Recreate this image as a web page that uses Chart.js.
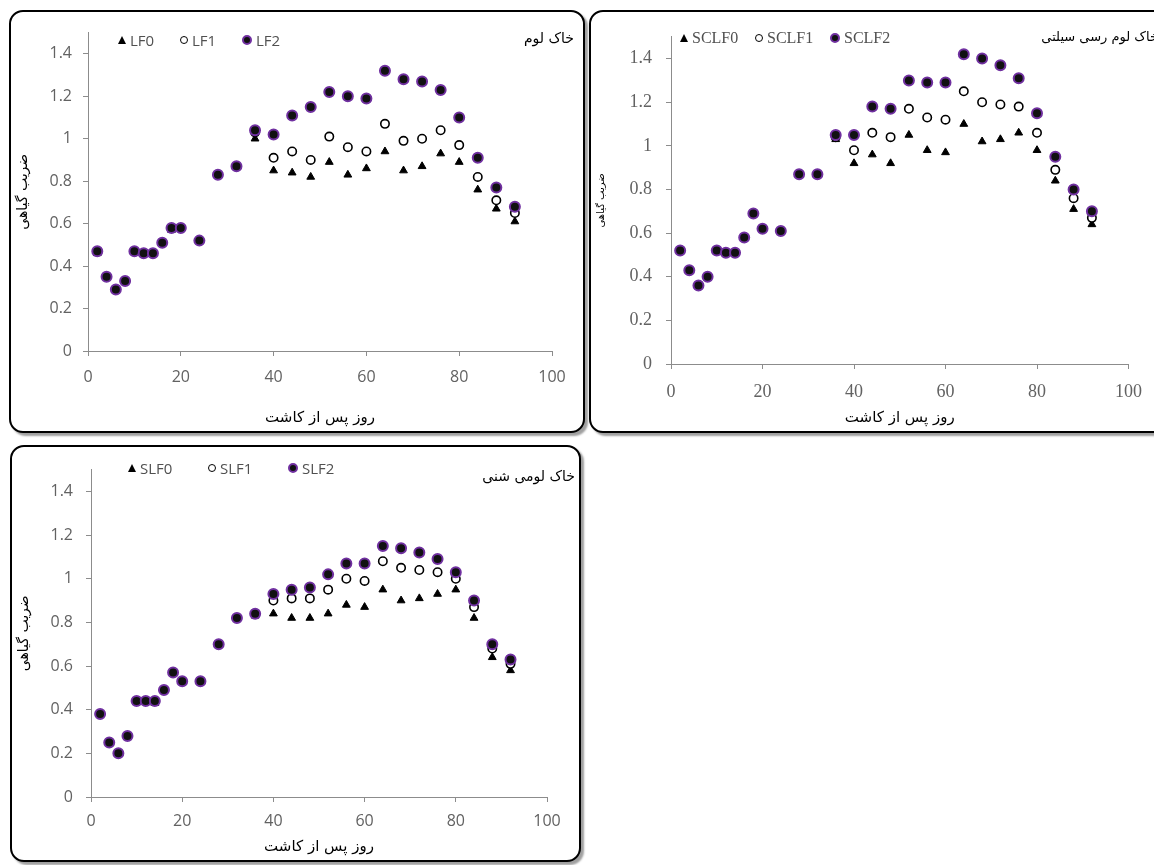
<!DOCTYPE html>
<html>
<head>
<meta charset="utf-8">
<script src="https://cdn.jsdelivr.net/npm/chart.js@4.4.1/dist/chart.umd.min.js"></script>
<style>
  html, body { margin: 0; padding: 0; background: #fff; width: 1154px; height: 865px; overflow: hidden; }
  .panel { position: absolute; border: 2px solid #000; border-radius: 14px; background: #fff; box-shadow: 3px 3px 2px #a0a0a0; }
  .panel canvas { position: absolute; left: 0; top: 0; }
  .legend { position: absolute; display: flex; color: #505050; white-space: nowrap; }
  .legend .item { display: flex; align-items: center; }
  .mk { display: inline-block; margin-right: 4px; box-sizing: border-box; }
  .mk.tri { width: 0; height: 0; border-left: 4px solid transparent; border-right: 4px solid transparent; border-bottom: 8px solid #000; }
  .mk.open { width: 8px; height: 8px; border: 1.5px solid #000; border-radius: 50%; background: #fff; }
  .mk.fill { width: 10px; height: 10px; border: 2px solid #7030a0; border-radius: 50%; background: #111; }
  .ttl { position: absolute; direction: rtl; font-family: "DejaVu Sans", sans-serif; color: #000; white-space: nowrap; }
</style>
</head>
<body>

<div class="panel" id="p1" style="left:9px; top:10px; width:572px; height:419px;">
  <canvas id="c1" width="572" height="419"></canvas>
  <div class="legend" id="lg1" style="left:107px; top:18px; font: 15px 'Open Sans', sans-serif;"></div>
  <div class="ttl" style="right:9px; top:18px; font-size:14px;">خاک لوم</div>
</div>

<div class="panel" id="p2" style="left:589px; top:10px; width:575px; height:419px;">
  <canvas id="c2" width="563" height="419"></canvas>
  <div class="legend" id="lg2" style="left:89px; top:17px; font: 16px 'Liberation Serif', serif;"></div>
  <div class="ttl" style="right:8px; top:17px; font-size:13px;">خاک لوم رسی سیلتی</div>
</div>

<div class="panel" id="p3" style="left:10px; top:445px; width:567px; height:413px;">
  <canvas id="c3" width="567" height="413"></canvas>
  <div class="legend" id="lg3" style="left:116px; top:11px; font: 15px 'Open Sans', sans-serif;"></div>
  <div class="ttl" style="right:4px; top:21px; font-size:14px;">خاک لومی شنی</div>
</div>

<script>
// ── Data ─────────────────────────────────────────────────────
const days = [2, 4, 6, 8, 10, 12, 14, 16, 18, 20, 24, 28, 32, 36, 40, 44, 48, 52, 56, 60, 64, 68, 72, 76, 80, 84, 88, 92];

const LF0 = [0.46, 0.35, 0.29, 0.33, 0.47, 0.46, 0.46, 0.51, 0.57, 0.58, 0.52, 0.83, 0.87, 1.00, 0.85, 0.84, 0.82, 0.89, 0.83, 0.86, 0.94, 0.85, 0.87, 0.93, 0.89, 0.76, 0.67, 0.61];
const LF1 = [0.47, 0.35, 0.29, 0.33, 0.47, 0.46, 0.46, 0.51, 0.58, 0.58, 0.52, 0.83, 0.87, 1.03, 0.91, 0.94, 0.90, 1.01, 0.96, 0.94, 1.07, 0.99, 1.00, 1.04, 0.97, 0.82, 0.71, 0.65];
const LF2 = [0.47, 0.35, 0.29, 0.33, 0.47, 0.46, 0.46, 0.51, 0.58, 0.58, 0.52, 0.83, 0.87, 1.04, 1.02, 1.11, 1.15, 1.22, 1.20, 1.19, 1.32, 1.28, 1.27, 1.23, 1.10, 0.91, 0.77, 0.68];

const SCLF0 = [0.52, 0.43, 0.36, 0.40, 0.52, 0.51, 0.51, 0.58, 0.69, 0.62, 0.61, 0.87, 0.87, 1.03, 0.92, 0.96, 0.92, 1.05, 0.98, 0.97, 1.10, 1.02, 1.03, 1.06, 0.98, 0.84, 0.71, 0.64];
const SCLF1 = [0.52, 0.43, 0.36, 0.40, 0.52, 0.51, 0.51, 0.58, 0.69, 0.62, 0.61, 0.87, 0.87, 1.04, 0.98, 1.06, 1.04, 1.17, 1.13, 1.12, 1.25, 1.20, 1.19, 1.18, 1.06, 0.89, 0.76, 0.67];
const SCLF2 = [0.52, 0.43, 0.36, 0.40, 0.52, 0.51, 0.51, 0.58, 0.69, 0.62, 0.61, 0.87, 0.87, 1.05, 1.05, 1.18, 1.17, 1.30, 1.29, 1.29, 1.42, 1.40, 1.37, 1.31, 1.15, 0.95, 0.80, 0.70];

const SLF0 = [0.38, 0.25, 0.20, 0.28, 0.44, 0.44, 0.43, 0.49, 0.57, 0.53, 0.53, 0.70, 0.82, 0.83, 0.84, 0.82, 0.82, 0.84, 0.88, 0.87, 0.95, 0.90, 0.91, 0.93, 0.95, 0.82, 0.64, 0.58];
const SLF1 = [0.38, 0.25, 0.20, 0.28, 0.44, 0.44, 0.44, 0.49, 0.57, 0.53, 0.53, 0.70, 0.82, 0.84, 0.90, 0.91, 0.91, 0.95, 1.00, 0.99, 1.08, 1.05, 1.04, 1.03, 1.00, 0.87, 0.68, 0.61];
const SLF2 = [0.38, 0.25, 0.20, 0.28, 0.44, 0.44, 0.44, 0.49, 0.57, 0.53, 0.53, 0.70, 0.82, 0.84, 0.93, 0.95, 0.96, 1.02, 1.07, 1.07, 1.15, 1.14, 1.12, 1.09, 1.03, 0.90, 0.70, 0.63];

const xTicks = [0, 20, 40, 60, 80, 100];
const yTicks = [0, 0.2, 0.4, 0.6, 0.8, 1, 1.2, 1.4];

const xTitle = 'روز پس از کاشت';
const yTitle = 'ضریب گیاهی';

// ── Marker styles (F0 triangle, F1 open circle, F2 purple dot) ─
const STYLES = [
  { cls: 'tri',  pointStyle: 'triangle', radius: 4.5, bg: '#000', border: '#000', bw: 1, order: 2 },
  { cls: 'open', pointStyle: 'circle',   radius: 4.2, bg: '#fff', border: '#000', bw: 1.6, order: 1 },
  { cls: 'fill', pointStyle: 'circle',   radius: 5,   bg: '#111', border: '#7030a0', bw: 2, order: 0 },
];

function toPoints(vals) {
  return days.map((d, i) => ({ x: d, y: vals[i] }));
}

function buildLegend(id, labels, itemWidth) {
  const el = document.getElementById(id);
  el.innerHTML = labels.map((lab, i) =>
    `<span class="item" style="width:${itemWidth}px"><span class="mk ${STYLES[i].cls}"></span>${lab}</span>`
  ).join('');
}

// ── Chart factory ────────────────────────────────────────────
function makePanel(canvasId, labels, series, g) {
  const tickFont = { family: g.tickFamily, size: g.tickSize };
  new Chart(document.getElementById(canvasId), {
    type: 'scatter',
    data: {
      datasets: series.map((vals, i) => ({
        label: labels[i],
        data: toPoints(vals),
        pointStyle: STYLES[i].pointStyle,
        pointRadius: STYLES[i].radius,
        pointHoverRadius: STYLES[i].radius,
        pointBackgroundColor: STYLES[i].bg,
        pointBorderColor: STYLES[i].border,
        pointBorderWidth: STYLES[i].bw,
        order: STYLES[i].order,
      })),
    },
    options: {
      responsive: false,
      animation: false,
      layout: { padding: { left: 0, right: g.padRight, top: g.padTop, bottom: 0 } },
      plugins: { legend: { display: false }, tooltip: { enabled: false } },
      scales: {
        x: {
          type: 'linear',
          min: xTicks[0],
          max: xTicks[xTicks.length - 1],
          afterBuildTicks: (s) => { s.ticks = xTicks.map(v => ({ value: v })); },
          afterFit: (s) => { s.height = g.xHeight; },
          ticks: { color: '#626262', font: tickFont, padding: g.xPad, maxRotation: 0 },
          grid: { drawOnChartArea: false, drawTicks: true, tickLength: 5, color: '#8c8c8c' },
          border: { color: '#8c8c8c' },
          title: { display: true, text: xTitle, color: '#000', font: { family: 'DejaVu Sans', size: g.xTitleSize } },
        },
        y: {
          min: 0,
          max: 1.5,
          afterBuildTicks: (s) => { s.ticks = yTicks.map(v => ({ value: v })); },
          afterFit: (s) => { s.width = g.yWidth; },
          ticks: { color: '#626262', font: tickFont, padding: g.yPad, callback: v => String(+v.toFixed(1)) },
          grid: { drawOnChartArea: false, drawTicks: true, tickLength: 5, color: '#8c8c8c' },
          border: { color: '#8c8c8c' },
          title: { display: true, text: yTitle, color: '#000', font: { family: 'DejaVu Sans', size: g.yTitleSize } },
        },
      },
    },
  });
}

// ── Loam ─────────────────────────────────────────────────────
makePanel('c1', ['LF0', 'LF1', 'LF2'], [LF0, LF1, LF2], {
  tickFamily: 'Open Sans', tickSize: 16, padRight: 31, padTop: 13,
  yWidth: 77, xHeight: 80, xPad: 12, yPad: 11, xTitleSize: 15, yTitleSize: 14,
});
buildLegend('lg1', ['LF0', 'LF1', 'LF2'], 62);

// ── Silty clay loam ──────────────────────────────────────────
makePanel('c2', ['SCLF0', 'SCLF1', 'SCLF2'], [SCLF0, SCLF1, SCLF2], {
  tickFamily: 'Liberation Serif', tickSize: 18, padRight: 14, padTop: 13,
  yWidth: 80, xHeight: 67, xPad: 12, yPad: 14, xTitleSize: 15, yTitleSize: 10,
});
buildLegend('lg2', ['SCLF0', 'SCLF1', 'SCLF2'], 75);

// ── Sandy loam ───────────────────────────────────────────────
makePanel('c3', ['SLF0', 'SLF1', 'SLF2'], [SLF0, SLF1, SLF2], {
  tickFamily: 'Open Sans', tickSize: 16, padRight: 32, padTop: 11,
  yWidth: 79, xHeight: 63, xPad: 10, yPad: 13, xTitleSize: 15, yTitleSize: 14,
});
buildLegend('lg3', ['SLF0', 'SLF1', 'SLF2'], 80);
</script>
</body>
</html>
